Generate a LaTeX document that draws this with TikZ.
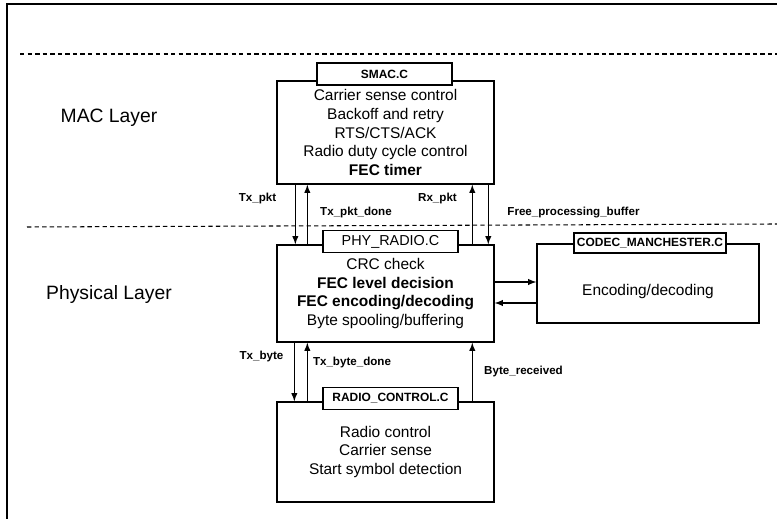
\documentclass[tikz,border=0pt]{standalone}
\usepackage{fontspec}
\setmainfont{Liberation Sans}
\usetikzlibrary{arrows}

\tikzset{
  modbox/.style={draw, rectangle, thick, minimum width=4.34cm, align=center, inner sep=0pt, font=\fontsize{8.8}{10.7}\selectfont},
  filebox/.style={draw, rectangle, thick, fill=white, minimum width=2.7cm, minimum height=0.44cm, inner sep=0pt, font=\bfseries\fontsize{6.8}{8}\selectfont},
  sig/.style={->, >=latex, semithick},
  siglbl/.style={font=\bfseries\fontsize{6.6}{8}\selectfont},
  layer/.style={font=\fontsize{11}{13}\selectfont},
  sep/.style={dash pattern=on 2.5pt off 1.8pt, semithick}
}

\begin{document}
\begin{tikzpicture}[x=0.02cm, y=-0.02cm]
\useasboundingbox (0,0) rectangle (777,519);
\draw[semithick] (7,519) -- (7,4) -- (777,4);
\draw[sep] (20,54) -- (777,54);
\draw[sep] (27,227) -- (777,224);

\node[layer] (maclayer) at (109,118) {MAC Layer};
\node[layer] (phylayer) at (109,295) {Physical Layer};

\node[modbox, minimum height=2.06cm] (mac) at (385.5,132.5) {Carrier sense control\\Backoff and retry\\RTS/CTS/ACK\\Radio duty cycle control\\\textbf{FEC timer}};
\node[modbox, minimum height=1.94cm] (phy) at (385.5,293.5) {CRC check\\\textbf{FEC level decision}\\\textbf{FEC encoding/decoding}\\Byte spooling/buffering};
\node[modbox, minimum height=2cm] (radio) at (385.5,452) {Radio control\\Carrier sense\\Start symbol detection};
\node[modbox, minimum width=4.44cm, minimum height=1.58cm] (codec) at (648,283.5) {};
\node[font=\fontsize{8.8}{10.7}\selectfont] (codectxt) at (648,292) {Encoding/decoding};

\node[filebox] (macfile) at (384.5,74) {SMAC.C};
\node[filebox, font=\fontsize{8.2}{10}\selectfont] (phyfile) at (390.5,241.5) {PHY\_RADIO.C};
\node[filebox] (radiofile) at (390.5,398.5) {RADIO\_CONTROL.C};
\node[filebox, minimum width=3.04cm, minimum height=0.4cm] (codecfile) at (650,243) {CODEC\_MANCHESTER.C};

\draw[sig] ([xshift=0.38cm]mac.south west) -- ([xshift=0.38cm]phy.north west);
\draw[sig] ([xshift=0.62cm]phy.north west) -- ([xshift=0.62cm]mac.south west);
\draw[sig] ([xshift=3.92cm]phy.north west) -- ([xshift=3.92cm]mac.south west);
\draw[sig] ([xshift=4.24cm]mac.south west) -- ([xshift=4.24cm]phy.north west);
\draw[sig] ([xshift=0.36cm]phy.south west) -- ([xshift=0.36cm]radio.north west);
\draw[sig] ([xshift=0.62cm]radio.north west) -- ([xshift=0.62cm]phy.south west);
\draw[sig] ([xshift=3.92cm]radio.north west) -- ([xshift=3.92cm]phy.south west);
\draw[sig] ([yshift=0.23cm]phy.east) -- ([yshift=0.23cm]phy.east -| codec.west);
\draw[sig] ([yshift=-0.19cm]phy.east -| codec.west) -- ([yshift=-0.19cm]phy.east);

\node[siglbl] (txpkt) at (257.5,199) {Tx\_pkt};
\node[siglbl] (txpktdone) at (356,213) {Tx\_pkt\_done};
\node[siglbl] (rxpkt) at (437.5,199) {Rx\_pkt};
\node[siglbl] (freebuf) at (573.5,213) {Free\_processing\_buffer};
\node[siglbl] (txbyte) at (261.5,357) {Tx\_byte};
\node[siglbl] (txbytedone) at (352,363) {Tx\_byte\_done};
\node[siglbl] (byterecv) at (523.5,372) {Byte\_received};

\end{tikzpicture}
\end{document}
